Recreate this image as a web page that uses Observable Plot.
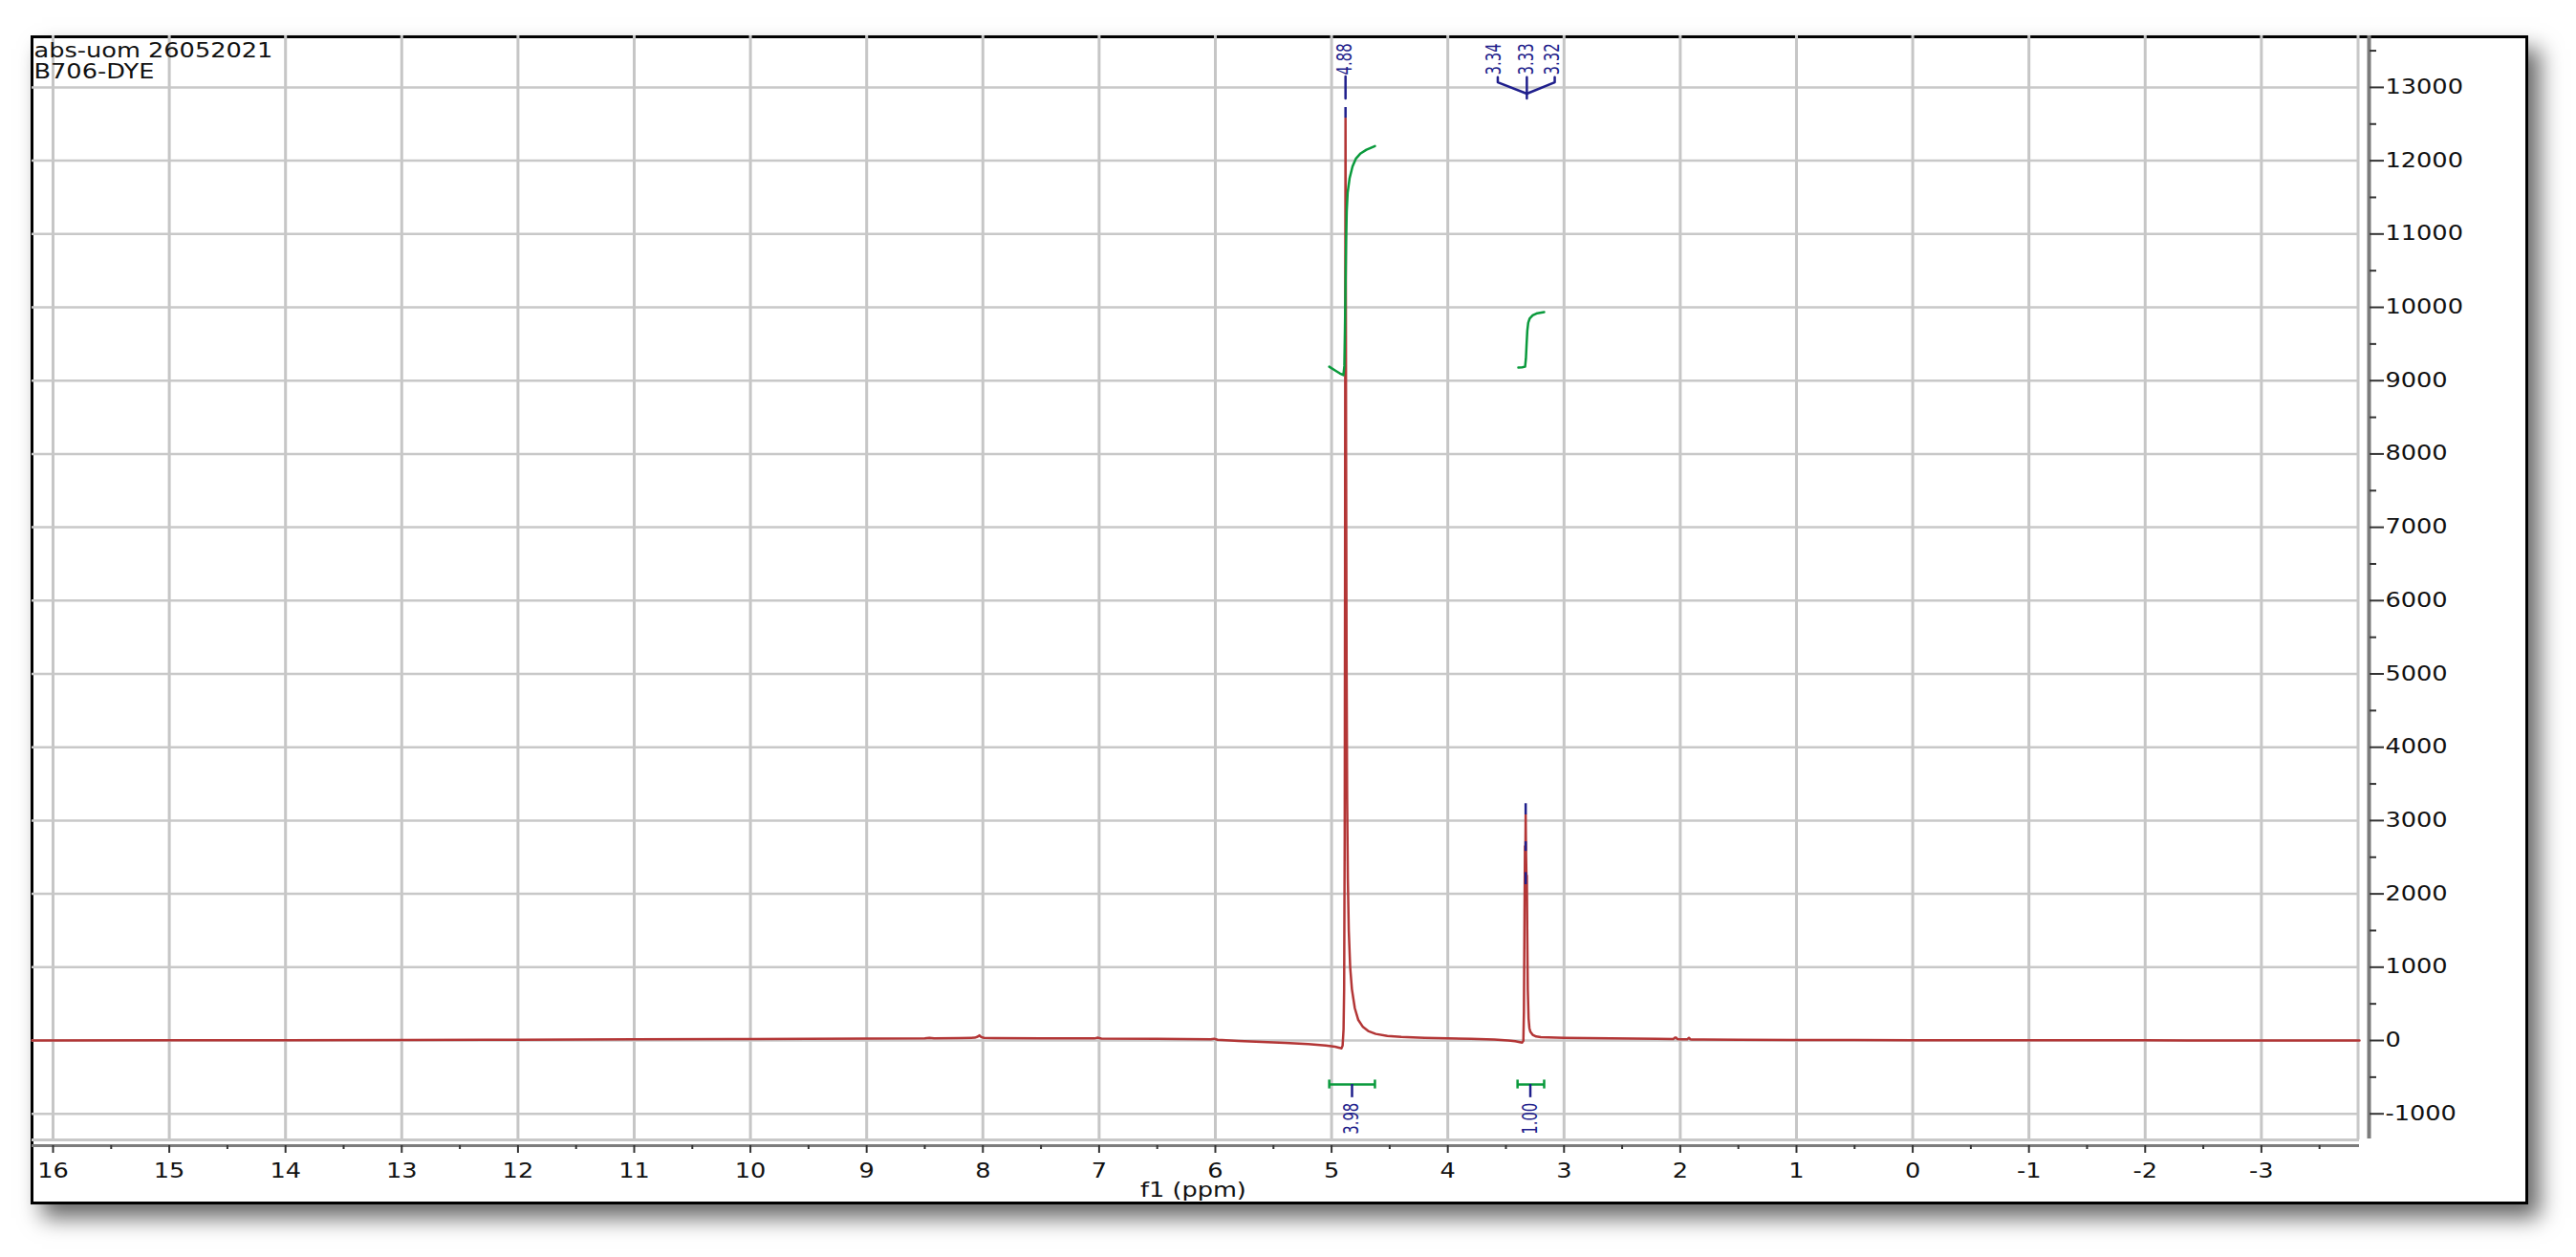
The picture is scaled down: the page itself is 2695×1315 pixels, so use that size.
<!DOCTYPE html>
<html><head><meta charset="utf-8">
<script src="https://cdn.jsdelivr.net/npm/d3@7"></script>
<script src="https://cdn.jsdelivr.net/npm/@observablehq/plot@0.6"></script>
<style>
body{margin:0;background:#fff;}
#wrap{position:relative;width:2695px;height:1315px;overflow:hidden;background:#fff;}
#frame{position:absolute;left:32px;top:37px;width:2613px;height:1223px;box-sizing:border-box;border:3px solid #000;background:#fff;box-shadow:12px 14px 22px rgba(0,0,0,0.6);}
#chart{position:absolute;left:0;top:0;}
</style></head><body>
<div id="wrap"><div id="frame"></div><div id="chart"></div></div>
<script>
// ---- data ----
const titleLines = ["abs-uom 26052021", "B706-DYE"];
const xAxisLabel = "f1 (ppm)";
const xTicks = [16, 15, 14, 13, 12, 11, 10, 9, 8, 7, 6, 5, 4, 3, 2, 1, 0, -1, -2, -3];
const xMinor = [15.5, 14.5, 13.5, 12.5, 11.5, 10.5, 9.5, 8.5, 7.5, 6.5, 5.5, 4.5, 3.5, 2.5, 1.5, 0.5, -0.5, -1.5, -2.5, -3.5];
const yTicks = [-1000, 0, 1000, 2000, 3000, 4000, 5000, 6000, 7000, 8000, 9000, 10000, 11000, 12000, 13000];
const yMinor = [-500, 500, 1500, 2500, 3500, 4500, 5500, 6500, 7500, 8500, 9500, 10500, 11500, 12500, 13500];

const specPpm = [16.18, 15.0, 14.0, 13.0, 12.0, 11.0, 10.0, 9.5, 9.0, 8.5, 8.46, 8.42, 8.2, 8.07, 8.045, 8.03, 8.015, 7.99, 7.9, 7.5, 7.04, 7.01, 6.98, 6.5, 6.04, 6.01, 5.98, 5.8, 5.6, 5.4, 5.2, 5.05, 4.97, 4.93, 4.915, 4.905, 4.897, 4.892, 4.887, 4.884, 4.882, 4.88, 4.878, 4.875, 4.871, 4.866, 4.86, 4.852, 4.84, 4.825, 4.80, 4.77, 4.73, 4.68, 4.62, 4.52, 4.4, 4.2, 4.0, 3.8, 3.6, 3.48, 3.42, 3.38, 3.36, 3.35, 3.345, 3.34, 3.336, 3.333, 3.33, 3.327, 3.323, 3.32, 3.316, 3.312, 3.305, 3.298, 3.29, 3.27, 3.24, 3.2, 3.0, 2.6, 2.2, 2.06, 2.045, 2.035, 2.025, 2.0, 1.94, 1.925, 1.912, 1.9, 1.8, 1.5, 1.0, 0.5, 0, -1, -2, -3, -3.844];
const specInt = [0, 3, 5, 8, 11, 15, 19, 22, 25, 28, 36, 29, 32, 38, 52, 70, 48, 36, 33, 30, 28, 38, 27, 22, 16, 24, 10, -5, -18, -32, -50, -68, -85, -100, -108, -70, 150, 700, 2800, 6500, 10200, 12580, 10800, 8000, 5200, 3300, 2200, 1500, 1000, 700, 440, 280, 185, 125, 90, 62, 48, 36, 30, 22, 12, 0, -10, -22, -28, -5, 400, 1700, 2650, 2400, 3080, 2550, 2200, 2250, 1400, 700, 300, 170, 120, 78, 55, 45, 35, 28, 22, 20, 38, 40, 19, 18, 18, 36, 16, 14, 12, 10, 8, 6, 5, 3, 2, 1, 0];

const int1Ppm = [5.02, 4.97, 4.93, 4.898, 4.89, 4.885, 4.88, 4.875, 4.87, 4.862, 4.845, 4.82, 4.79, 4.75, 4.70, 4.627];
const int1Val = [9190, 9140, 9100, 9075, 9200, 9700, 10300, 10900, 11300, 11560, 11760, 11920, 12030, 12100, 12150, 12200];
const int2Ppm = [3.393, 3.36, 3.335, 3.328, 3.322, 3.316, 3.308, 3.295, 3.27, 3.23, 3.171];
const int2Val = [9180, 9182, 9190, 9300, 9500, 9680, 9790, 9850, 9890, 9920, 9935];

const intFrom = [5.02, 3.40];
const intTo = [4.627, 3.171];
const intLabelX = [4.824, 3.29];
const intLabels = ["3.98", "1.00"];

const peakLabels = ["4.88", "3.34", "3.33", "3.32"];
const peakLabelX = [4.88, 3.60, 3.32, 3.10];
const peakLineX = [4.88, 3.57, 3.32, 3.08];
const peakJoinX = [4.88, 3.32, 3.32, 3.32];

// ---- build tables ----
const spectrum = specPpm.map((p, i) => ({ppm: p, v: specInt[i]}));
const integ = [
  ...int1Ppm.map((p, i) => ({ppm: p, v: int1Val[i], k: 1})),
  ...int2Ppm.map((p, i) => ({ppm: p, v: int2Val[i], k: 2}))
];
const xL = 16.181, xR = -3.844, yTop = 13703, yBot = -1434, yBorder = -1356;
const brackets = intFrom.map((f, i) => ({x1: f, x2: intTo[i], lx: intLabelX[i], t: intLabels[i]}));
const connectors = [];
peakLabels.forEach((t, i) => {
  if (i === 0) {
    connectors.push({k: i, x: peakLineX[i], v: 13150}, {k: i, x: peakLineX[i], v: 12850});
  } else if (i === 2) {
    connectors.push({k: i, x: peakLineX[i], v: 13140}, {k: i, x: peakLineX[i], v: 12850});
  } else {
    connectors.push({k: i, x: peakLineX[i], v: 13140}, {k: i, x: peakLineX[i], v: 13070}, {k: i, x: peakJoinX[i], v: 12914});
  }
});
const markers = [
  {x: 4.88, v1: 12725, v2: 12580},
  {x: 3.33, v1: 3230, v2: 3077},
  {x: 3.33, v1: 2710, v2: 2580},
  {x: 3.33, v1: 2290, v2: 2125}
];

const FONT = "DejaVu Sans, Verdana, sans-serif";
const NARROW = "Liberation Sans Narrow, DejaVu Sans Condensed, Arial Narrow, sans-serif";
const BLUE = "#1f1f8c";
const GREEN = "#0a9a3c";

const plot = Plot.plot({
  width: 2695, height: 1315,
  marginLeft: 33, marginRight: 227, marginTop: 37, marginBottom: 117,
  style: "background: transparent; overflow: visible; max-width: none;",
  x: {domain: [xL, xR], label: null},
  y: {domain: [yBot, yTop], label: null},
  marks: [
    Plot.ruleX(xTicks, {y1: yBorder, y2: yTop, stroke: "#c6c6c6", strokeWidth: 3}),
    Plot.ruleY(yTicks, {x1: xL, x2: xR, stroke: "#c8c8c8", strokeWidth: 2.5}),
    Plot.ruleX([xR], {y1: yBorder, y2: yTop, dx: -1.5, stroke: "#c8c8c8", strokeWidth: 3}),
    Plot.ruleY([yBorder], {x1: xL, x2: xR, stroke: "#c8c8c8", strokeWidth: 3}),
    Plot.ruleY([yBot], {x1: xL, x2: xR, stroke: "#7c7c7c", strokeWidth: 3}),
    Plot.ruleX([xR], {y1: -1343, y2: yTop, dx: 10, stroke: "#7c7c7c", strokeWidth: 4}),
    Plot.axisX({anchor: "bottom", ticks: xTicks, tickSize: 8, tickPadding: 11, tickFormat: d => String(d), stroke: "#333", strokeWidth: 2, fontSize: 20.5, fontFamily: FONT, fill: "#111", label: null}),
    Plot.axisX({anchor: "bottom", ticks: xMinor, tickSize: 4, tickFormat: () => "", stroke: "#333", strokeWidth: 2, label: null}),
    Plot.axisY({anchor: "right", ticks: yTicks, tickSize: 15, tickPadding: 2, dx: 10, tickFormat: d => String(d), stroke: "#333", strokeWidth: 2, fontSize: 20.5, fontFamily: FONT, fill: "#111", label: null}),
    Plot.axisY({anchor: "right", ticks: yMinor, tickSize: 7, dx: 10, tickFormat: () => "", stroke: "#333", strokeWidth: 2, label: null}),
    Plot.line(spectrum, {x: "ppm", y: "v", stroke: "#b33636", strokeWidth: 2.5}),
    Plot.line(integ, {x: "ppm", y: "v", z: "k", stroke: GREEN, strokeWidth: 2.5}),
    Plot.ruleY(brackets, {y: -600, x1: "x1", x2: "x2", stroke: GREEN, strokeWidth: 2.5}),
    Plot.ruleX(brackets, {x: "x1", y1: -540, y2: -660, stroke: GREEN, strokeWidth: 2.5}),
    Plot.ruleX(brackets, {x: "x2", y1: -540, y2: -660, stroke: GREEN, strokeWidth: 2.5}),
    Plot.ruleX(brackets, {x: "lx", y1: -600, y2: -780, stroke: BLUE, strokeWidth: 2.5}),
    Plot.text(brackets, {x: "lx", y: -850, text: "t", rotate: -90, textAnchor: "end", lineAnchor: "middle", fill: BLUE, fontSize: 16.5, fontFamily: NARROW}),
    Plot.line(connectors, {x: "x", y: "v", z: "k", stroke: BLUE, strokeWidth: 2.5}),
    Plot.ruleX(markers, {x: "x", y1: "v1", y2: "v2", stroke: BLUE, strokeWidth: 2.5}),
    Plot.text(peakLabels, {x: (d, i) => peakLabelX[i], y: 13170, text: d => d, rotate: -90, textAnchor: "start", lineAnchor: "middle", fill: BLUE, fontSize: 16.5, fontFamily: NARROW}),
    Plot.text([titleLines[0]], {x: xL, y: yTop, dx: 2, dy: 16, text: d => d, textAnchor: "start", lineAnchor: "middle", fill: "#111", fontSize: 20.5, fontFamily: FONT}),
    Plot.text([titleLines[1]], {x: xL, y: yTop, dx: 2, dy: 38, text: d => d, textAnchor: "start", lineAnchor: "middle", fill: "#111", fontSize: 20.5, fontFamily: FONT}),
    Plot.text([xAxisLabel], {x: 6.19, y: yBot, dy: 47, text: d => d, textAnchor: "middle", lineAnchor: "middle", fill: "#111", fontSize: 20.5, fontFamily: FONT})
  ]
});

// horizontal stretch of glyphs, as in the reference
const S = 1.25;
plot.querySelectorAll("text").forEach(t => {
  const tr = t.getAttribute("transform") || "";
  const m = tr.match(/^\s*translate\([^)]*\)/);
  if (m) {
    t.setAttribute("transform", m[0] + ` scale(${S},1)` + tr.slice(m[0].length));
  } else {
    const x = +(t.getAttribute("x") || 0), y = +(t.getAttribute("y") || 0);
    t.removeAttribute("x"); t.removeAttribute("y");
    t.setAttribute("transform", `translate(${x},${y}) scale(${S},1) ` + tr);
  }
});
document.getElementById("chart").appendChild(plot);
</script></body></html>
